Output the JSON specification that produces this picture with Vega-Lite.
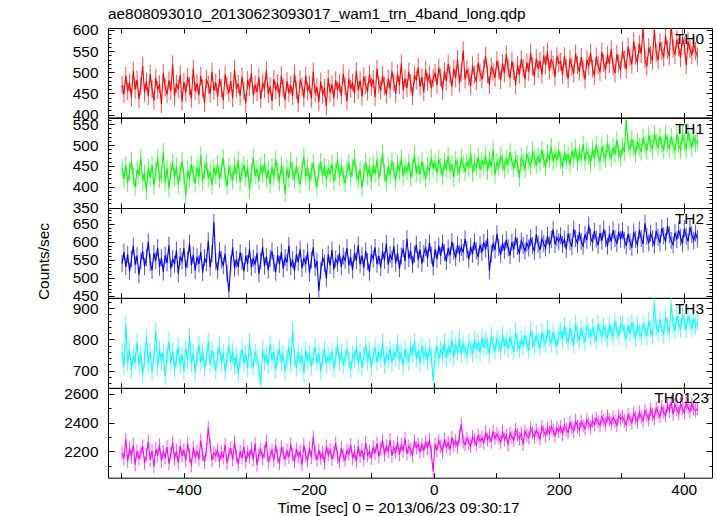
{
"$schema": "https://vega.github.io/schema/vega-lite/v6.json",
"padding": {"left": 35, "top": 7, "right": 6, "bottom": 4},
"title": {"text": "ae808093010_20130623093017_wam1_trn_4band_long.qdp", "anchor": "start", "frame": "group", "fontSize": 15.4, "fontWeight": "normal", "font": "Liberation Sans", "color": "#000", "baseline": "alphabetic", "offset": -12},
"datasets": {"lc": [
{"t":-499,"a":470,"b":445,"c":540,"d":760,"e":2190},
{"t":-496,"a":448,"b":418,"c":572,"d":712,"e":2150},
{"t":-493,"a":492,"b":452,"c":531,"d":848,"e":2285},
{"t":-490,"a":455,"b":409,"c":566,"d":725,"e":2130},
{"t":-487,"a":476,"b":437,"c":518,"d":768,"e":2222},
{"t":-484,"a":441,"b":461,"c":553,"d":702,"e":2164},
{"t":-481,"a":503,"b":424,"c":589,"d":745,"e":2246},
{"t":-478,"a":459,"b":398,"c":537,"d":731,"e":2108},
{"t":-475,"a":482,"b":441,"c":562,"d":790,"e":2201},
{"t":-472,"a":437,"b":427,"c":509,"d":718,"e":2152},
{"t":-469,"a":468,"b":470,"c":548,"d":754,"e":2189},
{"t":-466,"a":515,"b":415,"c":575,"d":688,"e":2236},
{"t":-463,"a":452,"b":433,"c":532,"d":736,"e":2119},
{"t":-460,"a":479,"b":389,"c":557,"d":805,"e":2177},
{"t":-457,"a":444,"b":446,"c":601,"d":721,"e":2268},
{"t":-454,"a":496,"b":421,"c":543,"d":760,"e":2140},
{"t":-451,"a":461,"b":452,"c":521,"d":697,"e":2203},
{"t":-448,"a":433,"b":403,"c":569,"d":742,"e":2095},
{"t":-445,"a":487,"b":439,"c":548,"d":826,"e":2217},
{"t":-442,"a":458,"b":468,"c":584,"d":711,"e":2171},
{"t":-439,"a":472,"b":417,"c":530,"d":769,"e":2244},
{"t":-436,"a":425,"b":430,"c":556,"d":729,"e":2133},
{"t":-433,"a":499,"b":484,"c":517,"d":758,"e":2196},
{"t":-430,"a":465,"b":411,"c":563,"d":681,"e":2158},
{"t":-427,"a":448,"b":444,"c":542,"d":747,"e":2230},
{"t":-424,"a":481,"b":396,"c":591,"d":794,"e":2115},
{"t":-421,"a":456,"b":437,"c":526,"d":725,"e":2183},
{"t":-418,"a":519,"b":458,"c":554,"d":762,"e":2262},
{"t":-415,"a":443,"b":422,"c":538,"d":705,"e":2147},
{"t":-412,"a":473,"b":449,"c":577,"d":739,"e":2205},
{"t":-409,"a":460,"b":404,"c":512,"d":778,"e":2120},
{"t":-406,"a":494,"b":433,"c":560,"d":716,"e":2238},
{"t":-403,"a":431,"b":462,"c":547,"d":752,"e":2169},
{"t":-400,"a":477,"b":426,"c":583,"d":699,"e":2211},
{"t":-397,"a":452,"b":380,"c":528,"d":771,"e":2138},
{"t":-394,"a":489,"b":441,"c":551,"d":733,"e":2254},
{"t":-391,"a":467,"b":418,"c":596,"d":810,"e":2174},
{"t":-388,"a":438,"b":454,"c":536,"d":722,"e":2102},
{"t":-385,"a":509,"b":431,"c":564,"d":757,"e":2228},
{"t":-382,"a":455,"b":407,"c":520,"d":695,"e":2161},
{"t":-379,"a":474,"b":447,"c":559,"d":744,"e":2199},
{"t":-376,"a":446,"b":423,"c":539,"d":783,"e":2144},
{"t":-373,"a":491,"b":475,"c":573,"d":726,"e":2276},
{"t":-370,"a":462,"b":412,"c":515,"d":760,"e":2180},
{"t":-367,"a":428,"b":439,"c":556,"d":708,"e":2125},
{"t":-364,"a":484,"b":458,"c":542,"d":741,"e":2215},
{"t":-361,"a":470,"b":420,"c":603,"d":792,"e":2365},
{"t":-358,"a":449,"b":436,"c":530,"d":719,"e":2243},
{"t":-355,"a":501,"b":403,"c":567,"d":765,"e":2137},
{"t":-352,"a":457,"b":446,"c":655,"d":733,"e":2190},
{"t":-349,"a":476,"b":427,"c":545,"d":701,"e":2172},
{"t":-346,"a":442,"b":455,"c":521,"d":749,"e":2208},
{"t":-343,"a":486,"b":418,"c":576,"d":776,"e":2129},
{"t":-340,"a":463,"b":440,"c":551,"d":722,"e":2191},
{"t":-337,"a":434,"b":469,"c":533,"d":758,"e":2156},
{"t":-334,"a":495,"b":424,"c":568,"d":696,"e":2247},
{"t":-331,"a":468,"b":401,"c":514,"d":740,"e":2118},
{"t":-328,"a":451,"b":448,"c":462,"d":781,"e":2185},
{"t":-325,"a":480,"b":432,"c":539,"d":727,"e":2223},
{"t":-322,"a":439,"b":415,"c":585,"d":761,"e":2142},
{"t":-319,"a":507,"b":451,"c":527,"d":715,"e":2265},
{"t":-316,"a":461,"b":429,"c":552,"d":748,"e":2170},
{"t":-313,"a":473,"b":464,"c":531,"d":690,"e":2110},
{"t":-310,"a":444,"b":410,"c":571,"d":737,"e":2201},
{"t":-307,"a":490,"b":437,"c":546,"d":769,"e":2155},
{"t":-304,"a":456,"b":453,"c":518,"d":723,"e":2236},
{"t":-301,"a":427,"b":421,"c":562,"d":754,"e":2127},
{"t":-298,"a":482,"b":445,"c":540,"d":707,"e":2194},
{"t":-295,"a":465,"b":392,"c":580,"d":792,"e":2162},
{"t":-292,"a":498,"b":433,"c":529,"d":734,"e":2219},
{"t":-289,"a":446,"b":470,"c":555,"d":711,"e":2141},
{"t":-286,"a":471,"b":426,"c":537,"d":757,"e":2254},
{"t":-283,"a":453,"b":443,"c":569,"d":742,"e":2106},
{"t":-280,"a":488,"b":414,"c":512,"d":703,"e":2180},
{"t":-277,"a":437,"b":450,"c":548,"d":655,"e":2213},
{"t":-274,"a":476,"b":431,"c":586,"d":768,"e":2149},
{"t":-271,"a":460,"b":458,"c":533,"d":728,"e":2196},
{"t":-268,"a":505,"b":419,"c":560,"d":751,"e":2270},
{"t":-265,"a":449,"b":440,"c":522,"d":716,"e":2125},
{"t":-262,"a":467,"b":406,"c":554,"d":785,"e":2171},
{"t":-259,"a":432,"b":447,"c":575,"d":733,"e":2209},
{"t":-256,"a":484,"b":423,"c":541,"d":759,"e":2135},
{"t":-253,"a":458,"b":466,"c":516,"d":702,"e":2242},
{"t":-250,"a":474,"b":435,"c":564,"d":745,"e":2166},
{"t":-247,"a":441,"b":411,"c":538,"d":770,"e":2117},
{"t":-244,"a":493,"b":452,"c":572,"d":724,"e":2231},
{"t":-241,"a":462,"b":429,"c":526,"d":752,"e":2189},
{"t":-238,"a":435,"b":384,"c":557,"d":697,"e":2143},
{"t":-235,"a":479,"b":444,"c":543,"d":738,"e":2207},
{"t":-232,"a":451,"b":420,"c":590,"d":776,"e":2158},
{"t":-229,"a":470,"b":461,"c":531,"d":719,"e":2250},
{"t":-226,"a":444,"b":437,"c":551,"d":829,"e":2175},
{"t":-223,"a":497,"b":416,"c":519,"d":743,"e":2129},
{"t":-220,"a":459,"b":450,"c":566,"d":708,"e":2216},
{"t":-217,"a":427,"b":428,"c":544,"d":761,"e":2163},
{"t":-214,"a":483,"b":405,"c":580,"d":727,"e":2198},
{"t":-211,"a":466,"b":442,"c":527,"d":748,"e":2108},
{"t":-208,"a":440,"b":473,"c":556,"d":692,"e":2244},
{"t":-205,"a":492,"b":425,"c":538,"d":766,"e":2172},
{"t":-202,"a":455,"b":446,"c":573,"d":731,"e":2137},
{"t":-199,"a":471,"b":413,"c":514,"d":754,"e":2223},
{"t":-196,"a":438,"b":436,"c":550,"d":712,"e":2160},
{"t":-193,"a":502,"b":457,"c":585,"d":745,"e":2299},
{"t":-190,"a":450,"b":421,"c":529,"d":777,"e":2185},
{"t":-187,"a":465,"b":398,"c":547,"d":725,"e":2140},
{"t":-184,"a":430,"b":439,"c":465,"d":756,"e":2208},
{"t":-181,"a":478,"b":460,"c":520,"d":698,"e":2154},
{"t":-178,"a":447,"b":426,"c":557,"d":741,"e":2193},
{"t":-175,"a":463,"b":448,"c":541,"d":767,"e":2119},
{"t":-172,"a":420,"b":417,"c":499,"d":720,"e":2236},
{"t":-169,"a":486,"b":444,"c":566,"d":749,"e":2177},
{"t":-166,"a":452,"b":430,"c":535,"d":729,"e":2212},
{"t":-163,"a":471,"b":455,"c":578,"d":762,"e":2145},
{"t":-160,"a":439,"b":412,"c":524,"d":706,"e":2190},
{"t":-157,"a":481,"b":436,"c":553,"d":744,"e":2257},
{"t":-154,"a":458,"b":463,"c":540,"d":781,"e":2163},
{"t":-151,"a":474,"b":422,"c":569,"d":726,"e":2128},
{"t":-148,"a":445,"b":448,"c":531,"d":758,"e":2224},
{"t":-145,"a":497,"b":427,"c":561,"d":717,"e":2171},
{"t":-142,"a":467,"b":408,"c":549,"d":740,"e":2139},
{"t":-139,"a":432,"b":440,"c":584,"d":770,"e":2206},
{"t":-136,"a":485,"b":457,"c":536,"d":733,"e":2180},
{"t":-133,"a":461,"b":423,"c":557,"d":701,"e":2245},
{"t":-130,"a":476,"b":445,"c":522,"d":751,"e":2150},
{"t":-127,"a":449,"b":469,"c":570,"d":738,"e":2197},
{"t":-124,"a":503,"b":431,"c":548,"d":776,"e":2129},
{"t":-121,"a":458,"b":418,"c":591,"d":722,"e":2235},
{"t":-118,"a":481,"b":441,"c":538,"d":759,"e":2166},
{"t":-115,"a":443,"b":397,"c":562,"d":708,"e":2208},
{"t":-112,"a":490,"b":434,"c":529,"d":747,"e":2141},
{"t":-109,"a":470,"b":459,"c":575,"d":781,"e":2262},
{"t":-106,"a":454,"b":425,"c":546,"d":728,"e":2173},
{"t":-103,"a":496,"b":448,"c":516,"d":764,"e":2199},
{"t":-100,"a":466,"b":414,"c":567,"d":711,"e":2152},
{"t":-97,"a":484,"b":452,"c":553,"d":748,"e":2230},
{"t":-94,"a":441,"b":430,"c":585,"d":774,"e":2187},
{"t":-91,"a":508,"b":465,"c":538,"d":727,"e":2256},
{"t":-88,"a":472,"b":421,"c":561,"d":759,"e":2163},
{"t":-85,"a":457,"b":446,"c":529,"d":736,"e":2218},
{"t":-82,"a":493,"b":480,"c":574,"d":790,"e":2275},
{"t":-79,"a":468,"b":433,"c":549,"d":718,"e":2176},
{"t":-76,"a":447,"b":411,"c":596,"d":752,"e":2240},
{"t":-73,"a":485,"b":448,"c":537,"d":737,"e":2197},
{"t":-70,"a":461,"b":427,"c":565,"d":771,"e":2281},
{"t":-67,"a":503,"b":462,"c":552,"d":724,"e":2168},
{"t":-64,"a":476,"b":439,"c":588,"d":760,"e":2229},
{"t":-61,"a":449,"b":415,"c":541,"d":741,"e":2192},
{"t":-58,"a":497,"b":455,"c":570,"d":787,"e":2263},
{"t":-55,"a":470,"b":437,"c":526,"d":732,"e":2178},
{"t":-52,"a":521,"b":468,"c":561,"d":756,"e":2247},
{"t":-49,"a":458,"b":424,"c":582,"d":716,"e":2205},
{"t":-46,"a":486,"b":447,"c":547,"d":769,"e":2290},
{"t":-43,"a":463,"b":436,"c":609,"d":745,"e":2183},
{"t":-40,"a":501,"b":459,"c":554,"d":727,"e":2236},
{"t":-37,"a":475,"b":420,"c":575,"d":775,"e":2211},
{"t":-34,"a":444,"b":445,"c":538,"d":753,"e":2170},
{"t":-31,"a":494,"b":477,"c":566,"d":792,"e":2273},
{"t":-28,"a":481,"b":431,"c":593,"d":738,"e":2226},
{"t":-25,"a":512,"b":452,"c":551,"d":764,"e":2252},
{"t":-22,"a":466,"b":428,"c":579,"d":723,"e":2195},
{"t":-19,"a":489,"b":461,"c":540,"d":781,"e":2247},
{"t":-16,"a":453,"b":439,"c":568,"d":745,"e":2204},
{"t":-13,"a":506,"b":418,"c":585,"d":762,"e":2268},
{"t":-10,"a":477,"b":450,"c":554,"d":730,"e":2222},
{"t":-7,"a":495,"b":436,"c":598,"d":773,"e":2281},
{"t":-4,"a":462,"b":470,"c":563,"d":748,"e":2190},
{"t":-1,"a":486,"b":443,"c":531,"d":668,"e":2060},
{"t":2,"a":499,"b":458,"c":580,"d":744,"e":2249},
{"t":5,"a":470,"b":432,"c":552,"d":781,"e":2208},
{"t":8,"a":511,"b":466,"c":589,"d":735,"e":2275},
{"t":11,"a":488,"b":447,"c":561,"d":767,"e":2236},
{"t":14,"a":457,"b":425,"c":597,"d":752,"e":2198},
{"t":17,"a":503,"b":460,"c":570,"d":792,"e":2285},
{"t":20,"a":479,"b":441,"c":546,"d":738,"e":2229},
{"t":23,"a":520,"b":473,"c":583,"d":776,"e":2261},
{"t":26,"a":494,"b":438,"c":563,"d":754,"e":2214},
{"t":29,"a":466,"b":455,"c":601,"d":799,"e":2297},
{"t":32,"a":509,"b":421,"c":574,"d":741,"e":2243},
{"t":35,"a":486,"b":464,"c":556,"d":781,"e":2275},
{"t":38,"a":531,"b":448,"c":592,"d":760,"e":2230},
{"t":41,"a":474,"b":431,"c":568,"d":803,"e":2306},
{"t":44,"a":500,"b":470,"c":585,"d":751,"e":2390},
{"t":47,"a":552,"b":453,"c":571,"d":786,"e":2268},
{"t":50,"a":483,"b":436,"c":609,"d":765,"e":2247},
{"t":53,"a":507,"b":461,"c":579,"d":747,"e":2291},
{"t":56,"a":490,"b":445,"c":552,"d":790,"e":2259},
{"t":59,"a":468,"b":480,"c":587,"d":772,"e":2236},
{"t":62,"a":516,"b":433,"c":566,"d":754,"e":2302},
{"t":65,"a":494,"b":458,"c":601,"d":800,"e":2279},
{"t":68,"a":478,"b":447,"c":576,"d":766,"e":2247},
{"t":71,"a":523,"b":471,"c":558,"d":789,"e":2315},
{"t":74,"a":499,"b":440,"c":592,"d":758,"e":2271},
{"t":77,"a":483,"b":462,"c":571,"d":805,"e":2296},
{"t":80,"a":509,"b":451,"c":599,"d":773,"e":2258},
{"t":83,"a":539,"b":475,"c":580,"d":797,"e":2335},
{"t":86,"a":496,"b":437,"c":611,"d":781,"e":2283},
{"t":89,"a":470,"b":466,"c":520,"d":752,"e":2307},
{"t":92,"a":514,"b":448,"c":567,"d":812,"e":2266},
{"t":95,"a":502,"b":490,"c":596,"d":782,"e":2338},
{"t":98,"a":487,"b":429,"c":578,"d":763,"e":2290},
{"t":101,"a":528,"b":459,"c":623,"d":801,"e":2321},
{"t":104,"a":505,"b":447,"c":585,"d":788,"e":2295},
{"t":107,"a":481,"b":474,"c":565,"d":760,"e":2264},
{"t":110,"a":521,"b":457,"c":597,"d":815,"e":2338},
{"t":113,"a":498,"b":441,"c":576,"d":778,"e":2282},
{"t":116,"a":543,"b":469,"c":606,"d":796,"e":2313},
{"t":119,"a":510,"b":452,"c":584,"d":770,"e":2247},
{"t":122,"a":486,"b":483,"c":562,"d":809,"e":2329},
{"t":125,"a":526,"b":461,"c":599,"d":782,"e":2300},
{"t":128,"a":503,"b":444,"c":579,"d":760,"e":2278},
{"t":131,"a":470,"b":466,"c":614,"d":826,"e":2352},
{"t":134,"a":517,"b":455,"c":588,"d":789,"e":2316},
{"t":137,"a":494,"b":421,"c":567,"d":768,"e":2289},
{"t":140,"a":531,"b":472,"c":603,"d":801,"e":2324},
{"t":143,"a":510,"b":459,"c":590,"d":779,"e":2249},
{"t":146,"a":484,"b":441,"c":575,"d":812,"e":2340},
{"t":149,"a":523,"b":478,"c":597,"d":787,"e":2310},
{"t":152,"a":501,"b":463,"c":583,"d":765,"e":2293},
{"t":155,"a":546,"b":449,"c":612,"d":830,"e":2362},
{"t":158,"a":513,"b":486,"c":590,"d":798,"e":2331},
{"t":161,"a":490,"b":467,"c":574,"d":778,"e":2300},
{"t":164,"a":533,"b":452,"c":621,"d":815,"e":2347},
{"t":167,"a":508,"b":474,"c":594,"d":791,"e":2322},
{"t":170,"a":527,"b":458,"c":578,"d":773,"e":2288},
{"t":173,"a":495,"b":489,"c":609,"d":822,"e":2371},
{"t":176,"a":540,"b":467,"c":595,"d":800,"e":2338},
{"t":179,"a":517,"b":446,"c":583,"d":785,"e":2312},
{"t":182,"a":549,"b":480,"c":618,"d":834,"e":2359},
{"t":185,"a":504,"b":465,"c":591,"d":806,"e":2326},
{"t":188,"a":531,"b":496,"c":607,"d":787,"e":2375},
{"t":191,"a":518,"b":461,"c":635,"d":823,"e":2348},
{"t":194,"a":489,"b":478,"c":593,"d":799,"e":2311},
{"t":197,"a":538,"b":465,"c":612,"d":778,"e":2364},
{"t":200,"a":521,"b":487,"c":601,"d":815,"e":2340},
{"t":203,"a":525,"b":464,"c":617,"d":827,"e":2372},
{"t":206,"a":494,"b":447,"c":593,"d":798,"e":2318},
{"t":209,"a":538,"b":482,"c":608,"d":844,"e":2385},
{"t":212,"a":511,"b":463,"c":580,"d":812,"e":2353},
{"t":215,"a":485,"b":478,"c":624,"d":791,"e":2332},
{"t":218,"a":532,"b":452,"c":601,"d":835,"e":2401},
{"t":221,"a":513,"b":486,"c":587,"d":809,"e":2367},
{"t":224,"a":497,"b":467,"c":636,"d":782,"e":2340},
{"t":227,"a":544,"b":493,"c":610,"d":850,"e":2415},
{"t":230,"a":518,"b":458,"c":595,"d":818,"e":2372},
{"t":233,"a":501,"b":481,"c":627,"d":797,"e":2351},
{"t":236,"a":536,"b":470,"c":602,"d":836,"e":2408},
{"t":239,"a":507,"b":502,"c":589,"d":813,"e":2381},
{"t":242,"a":483,"b":462,"c":621,"d":791,"e":2357},
{"t":245,"a":530,"b":485,"c":605,"d":842,"e":2420},
{"t":248,"a":515,"b":474,"c":646,"d":824,"e":2395},
{"t":251,"a":546,"b":455,"c":613,"d":805,"e":2368},
{"t":254,"a":509,"b":490,"c":598,"d":839,"e":2411},
{"t":257,"a":492,"b":468,"c":630,"d":816,"e":2389},
{"t":260,"a":537,"b":501,"c":608,"d":796,"e":2433},
{"t":263,"a":516,"b":476,"c":591,"d":850,"e":2405},
{"t":266,"a":500,"b":460,"c":625,"d":827,"e":2379},
{"t":269,"a":548,"b":497,"c":603,"d":808,"e":2440},
{"t":272,"a":522,"b":479,"c":636,"d":843,"e":2411},
{"t":275,"a":505,"b":466,"c":609,"d":821,"e":2388},
{"t":278,"a":541,"b":504,"c":588,"d":802,"e":2447},
{"t":281,"a":519,"b":483,"c":622,"d":847,"e":2420},
{"t":284,"a":554,"b":468,"c":601,"d":826,"e":2392},
{"t":287,"a":513,"b":495,"c":633,"d":807,"e":2436},
{"t":290,"a":498,"b":477,"c":610,"d":856,"e":2412},
{"t":293,"a":543,"b":512,"c":595,"d":830,"e":2381},
{"t":296,"a":520,"b":482,"c":628,"d":811,"e":2449},
{"t":299,"a":506,"b":469,"c":607,"d":845,"e":2425},
{"t":302,"a":552,"b":498,"c":631,"d":849,"e":2441},
{"t":305,"a":530,"b":483,"c":605,"d":821,"e":2412},
{"t":308,"a":507,"b":560,"c":589,"d":802,"e":2384},
{"t":311,"a":561,"b":502,"c":622,"d":844,"e":2455},
{"t":314,"a":535,"b":489,"c":601,"d":818,"e":2426},
{"t":317,"a":518,"b":515,"c":584,"d":855,"e":2398},
{"t":320,"a":573,"b":493,"c":628,"d":827,"e":2468},
{"t":323,"a":539,"b":478,"c":607,"d":806,"e":2435},
{"t":326,"a":522,"b":509,"c":591,"d":846,"e":2407},
{"t":329,"a":567,"b":496,"c":634,"d":824,"e":2472},
{"t":332,"a":543,"b":484,"c":610,"d":809,"e":2440},
{"t":335,"a":604,"b":518,"c":594,"d":851,"e":2413},
{"t":338,"a":531,"b":499,"c":652,"d":830,"e":2484},
{"t":341,"a":514,"b":486,"c":616,"d":811,"e":2451},
{"t":344,"a":559,"b":523,"c":597,"d":859,"e":2420},
{"t":347,"a":541,"b":503,"c":624,"d":833,"e":2495},
{"t":350,"a":527,"b":490,"c":609,"d":811,"e":2459},
{"t":353,"a":600,"b":527,"c":591,"d":915,"e":2430},
{"t":356,"a":545,"b":508,"c":631,"d":840,"e":2503},
{"t":359,"a":529,"b":494,"c":613,"d":821,"e":2469},
{"t":362,"a":571,"b":521,"c":598,"d":864,"e":2441},
{"t":365,"a":550,"b":502,"c":639,"d":837,"e":2511},
{"t":368,"a":535,"b":487,"c":617,"d":814,"e":2475},
{"t":371,"a":586,"b":526,"c":601,"d":871,"e":2448},
{"t":374,"a":553,"b":505,"c":645,"d":843,"e":2520},
{"t":377,"a":538,"b":491,"c":621,"d":822,"e":2482},
{"t":380,"a":612,"b":520,"c":604,"d":915,"e":2545},
{"t":383,"a":556,"b":499,"c":592,"d":847,"e":2458},
{"t":386,"a":541,"b":485,"c":626,"d":828,"e":2525},
{"t":389,"a":577,"b":525,"c":607,"d":876,"e":2492},
{"t":392,"a":559,"b":502,"c":633,"d":851,"e":2464},
{"t":395,"a":534,"b":487,"c":613,"d":833,"e":2533},
{"t":398,"a":582,"b":529,"c":595,"d":879,"e":2499},
{"t":401,"a":562,"b":506,"c":637,"d":856,"e":2471},
{"t":404,"a":517,"b":490,"c":616,"d":831,"e":2540},
{"t":407,"a":573,"b":531,"c":601,"d":874,"e":2506},
{"t":410,"a":555,"b":509,"c":641,"d":853,"e":2477},
{"t":413,"a":540,"b":493,"c":620,"d":836,"e":2529},
{"t":416,"a":568,"b":520,"c":604,"d":867,"e":2495},
{"t":419,"a":551,"b":503,"c":625,"d":842,"e":2483},
{"t":422,"a":537,"b":510,"c":609,"d":857,"e":2500}
]},
"spacing": 0,
"bounds": "flush",
"vconcat": [
{"width": 604, "height": 89.4, "data": {"name": "lc"},
 "layer": [
  {"mark": {"type": "tick", "orient": "vertical", "color": "#ff0000", "opacity": 0.7, "size": 18, "thickness": 1, "clip": true},
   "encoding": {"x": {"field": "t", "type": "quantitative", "axis": null}, "y": {"field": "a", "type": "quantitative", "axis": null}}},
  {"mark": {"type": "line", "color": "#ff0000", "strokeWidth": 1.1, "clip": true},
   "encoding": {
    "x": {"field": "t", "type": "quantitative", "scale": {"domain": [-521.5, 445.3], "nice": false, "zero": false}, "axis": {"orient": "bottom", "values": [-500,-400,-300,-200,-100,0,100,200,300,400], "tickSize": -5, "labels": false, "title": null}},
    "y": {"field": "a", "type": "quantitative", "scale": {"domain": [393.6, 604.5], "nice": false, "zero": false}, "axis": {"orient": "left", "values": [400,450,500,550,600], "tickSize": -6, "labelPadding": 16, "title": null}}}},
  {"mark": {"type": "line", "opacity": 0},
   "encoding": {
    "x": {"field": "t", "type": "quantitative", "axis": {"orient": "top", "values": [-500,-400,-300,-200,-100,0,100,200,300,400], "tickSize": -5, "labels": false, "title": null}},
    "y": {"field": "a", "type": "quantitative", "axis": {"orient": "right", "values": [400,450,500,550,600], "tickSize": -6, "labels": false, "title": null}}}},
  {"mark": {"type": "line", "opacity": 0},
   "encoding": {
    "x": {"field": "t", "type": "quantitative", "axis": null},
    "y": {"field": "a", "type": "quantitative", "axis": {"orient": "left", "values": [410,420,430,440,460,470,480,490,510,520,530,540,560,570,580,590], "tickSize": -3, "labels": false, "title": null}}}},
  {"mark": {"type": "line", "opacity": 0},
   "encoding": {
    "x": {"field": "t", "type": "quantitative", "axis": null},
    "y": {"field": "a", "type": "quantitative", "axis": {"orient": "right", "values": [410,420,430,440,460,470,480,490,510,520,530,540,560,570,580,590], "tickSize": -3, "labels": false, "title": null}}}},
  {"data": {"values": [{"lab": "TH0"}]},
   "mark": {"type": "text", "align": "right", "baseline": "alphabetic", "fontSize": 15.4, "font": "Liberation Sans", "color": "#000"},
   "encoding": {"text": {"field": "lab"}, "x": {"datum": 432.5, "type": "quantitative", "axis": null}, "y": {"datum": 566, "type": "quantitative", "axis": null}}}
 ],
 "resolve": {"axis": {"x": "independent", "y": "independent"}}},
{"width": 604, "height": 90, "data": {"name": "lc"},
 "layer": [
  {"mark": {"type": "tick", "orient": "vertical", "color": "#00ff00", "opacity": 0.7, "size": 17.5, "thickness": 1, "clip": true},
   "encoding": {"x": {"field": "t", "type": "quantitative", "axis": null}, "y": {"field": "b", "type": "quantitative", "axis": null}}},
  {"mark": {"type": "line", "color": "#00ff00", "strokeWidth": 1.1, "clip": true},
   "encoding": {
    "x": {"field": "t", "type": "quantitative", "scale": {"domain": [-521.5, 445.3], "nice": false, "zero": false}, "axis": {"orient": "bottom", "values": [-500,-400,-300,-200,-100,0,100,200,300,400], "tickSize": -5, "labels": false, "title": null}},
    "y": {"field": "b", "type": "quantitative", "scale": {"domain": [348.8, 564.9], "nice": false, "zero": false}, "axis": {"orient": "left", "values": [350,400,450,500,550], "tickSize": -6, "labelPadding": 16, "title": null}}}},
  {"mark": {"type": "line", "opacity": 0},
   "encoding": {
    "x": {"field": "t", "type": "quantitative", "axis": {"orient": "top", "values": [-500,-400,-300,-200,-100,0,100,200,300,400], "tickSize": -5, "labels": false, "title": null}},
    "y": {"field": "b", "type": "quantitative", "axis": {"orient": "right", "values": [350,400,450,500,550], "tickSize": -6, "labels": false, "title": null}}}},
  {"mark": {"type": "line", "opacity": 0},
   "encoding": {
    "x": {"field": "t", "type": "quantitative", "axis": null},
    "y": {"field": "b", "type": "quantitative", "axis": {"orient": "left", "values": [360,370,380,390,410,420,430,440,460,470,480,490,510,520,530,540,560], "tickSize": -3, "labels": false, "title": null}}}},
  {"mark": {"type": "line", "opacity": 0},
   "encoding": {
    "x": {"field": "t", "type": "quantitative", "axis": null},
    "y": {"field": "b", "type": "quantitative", "axis": {"orient": "right", "values": [360,370,380,390,410,420,430,440,460,470,480,490,510,520,530,540,560], "tickSize": -3, "labels": false, "title": null}}}},
  {"data": {"values": [{"lab": "TH1"}]},
   "mark": {"type": "text", "align": "right", "baseline": "alphabetic", "fontSize": 15.4, "font": "Liberation Sans", "color": "#000"},
   "encoding": {"text": {"field": "lab"}, "x": {"datum": 432.5, "type": "quantitative", "axis": null}, "y": {"datum": 525.8, "type": "quantitative", "axis": null}}}
 ],
 "resolve": {"axis": {"x": "independent", "y": "independent"}}},
{"width": 604, "height": 89.8, "data": {"name": "lc"},
 "layer": [
  {"mark": {"type": "tick", "orient": "vertical", "color": "#0000ff", "opacity": 0.7, "size": 17, "thickness": 1, "clip": true},
   "encoding": {"x": {"field": "t", "type": "quantitative", "axis": null}, "y": {"field": "c", "type": "quantitative", "axis": null}}},
  {"mark": {"type": "line", "color": "#0000ff", "strokeWidth": 1.1, "clip": true},
   "encoding": {
    "x": {"field": "t", "type": "quantitative", "scale": {"domain": [-521.5, 445.3], "nice": false, "zero": false}, "axis": {"orient": "bottom", "values": [-500,-400,-300,-200,-100,0,100,200,300,400], "tickSize": -5, "labels": false, "title": null}},
    "y": {"field": "c", "type": "quantitative", "scale": {"domain": [445, 694.4], "nice": false, "zero": false}, "axis": {"orient": "left", "values": [450,500,550,600,650], "tickSize": -6, "labelPadding": 16, "title": "Counts/sec", "titlePadding": 21, "titleY": 53}}}},
  {"mark": {"type": "line", "opacity": 0},
   "encoding": {
    "x": {"field": "t", "type": "quantitative", "axis": {"orient": "top", "values": [-500,-400,-300,-200,-100,0,100,200,300,400], "tickSize": -5, "labels": false, "title": null}},
    "y": {"field": "c", "type": "quantitative", "axis": {"orient": "right", "values": [450,500,550,600,650], "tickSize": -6, "labels": false, "title": null}}}},
  {"mark": {"type": "line", "opacity": 0},
   "encoding": {
    "x": {"field": "t", "type": "quantitative", "axis": null},
    "y": {"field": "c", "type": "quantitative", "axis": {"orient": "left", "values": [460,470,480,490,510,520,530,540,560,570,580,590,610,620,630,640,660,670,680,690], "tickSize": -3, "labels": false, "title": null}}}},
  {"mark": {"type": "line", "opacity": 0},
   "encoding": {
    "x": {"field": "t", "type": "quantitative", "axis": null},
    "y": {"field": "c", "type": "quantitative", "axis": {"orient": "right", "values": [460,470,480,490,510,520,530,540,560,570,580,590,610,620,630,640,660,670,680,690], "tickSize": -3, "labels": false, "title": null}}}},
  {"data": {"values": [{"lab": "TH2"}]},
   "mark": {"type": "text", "align": "right", "baseline": "alphabetic", "fontSize": 15.4, "font": "Liberation Sans", "color": "#000"},
   "encoding": {"text": {"field": "lab"}, "x": {"datum": 432.5, "type": "quantitative", "axis": null}, "y": {"datum": 649, "type": "quantitative", "axis": null}}}
 ],
 "resolve": {"axis": {"x": "independent", "y": "independent"}}},
{"width": 604, "height": 89.8, "data": {"name": "lc"},
 "layer": [
  {"mark": {"type": "tick", "orient": "vertical", "color": "#00ffff", "opacity": 0.7, "size": 17.5, "thickness": 1, "clip": true},
   "encoding": {"x": {"field": "t", "type": "quantitative", "axis": null}, "y": {"field": "d", "type": "quantitative", "axis": null}}},
  {"mark": {"type": "line", "color": "#00ffff", "strokeWidth": 1.1, "clip": true},
   "encoding": {
    "x": {"field": "t", "type": "quantitative", "scale": {"domain": [-521.5, 445.3], "nice": false, "zero": false}, "axis": {"orient": "bottom", "values": [-500,-400,-300,-200,-100,0,100,200,300,400], "tickSize": -5, "labels": false, "title": null}},
    "y": {"field": "d", "type": "quantitative", "scale": {"domain": [644.5, 932.7], "nice": false, "zero": false}, "axis": {"orient": "left", "values": [700,800,900], "tickSize": -6, "labelPadding": 16, "title": null}}}},
  {"mark": {"type": "line", "opacity": 0},
   "encoding": {
    "x": {"field": "t", "type": "quantitative", "axis": {"orient": "top", "values": [-500,-400,-300,-200,-100,0,100,200,300,400], "tickSize": -5, "labels": false, "title": null}},
    "y": {"field": "d", "type": "quantitative", "axis": {"orient": "right", "values": [700,800,900], "tickSize": -6, "labels": false, "title": null}}}},
  {"mark": {"type": "line", "opacity": 0},
   "encoding": {
    "x": {"field": "t", "type": "quantitative", "axis": null},
    "y": {"field": "d", "type": "quantitative", "axis": {"orient": "left", "values": [660,680,720,740,760,780,820,840,860,880,920], "tickSize": -3, "labels": false, "title": null}}}},
  {"mark": {"type": "line", "opacity": 0},
   "encoding": {
    "x": {"field": "t", "type": "quantitative", "axis": null},
    "y": {"field": "d", "type": "quantitative", "axis": {"orient": "right", "values": [660,680,720,740,760,780,820,840,860,880,920], "tickSize": -3, "labels": false, "title": null}}}},
  {"data": {"values": [{"lab": "TH3"}]},
   "mark": {"type": "text", "align": "right", "baseline": "alphabetic", "fontSize": 15.4, "font": "Liberation Sans", "color": "#000"},
   "encoding": {"text": {"field": "lab"}, "x": {"datum": 432.5, "type": "quantitative", "axis": null}, "y": {"datum": 880.4, "type": "quantitative", "axis": null}}}
 ],
 "resolve": {"axis": {"x": "independent", "y": "independent"}}},
{"width": 604, "height": 89.7, "data": {"name": "lc"},
 "layer": [
  {"mark": {"type": "tick", "orient": "vertical", "color": "#ff00ff", "opacity": 0.7, "size": 13.5, "thickness": 1, "clip": true},
   "encoding": {"x": {"field": "t", "type": "quantitative", "axis": null}, "y": {"field": "e", "type": "quantitative", "axis": null}}},
  {"mark": {"type": "line", "color": "#ff00ff", "strokeWidth": 1.1, "clip": true},
   "encoding": {
    "x": {"field": "t", "type": "quantitative", "scale": {"domain": [-521.5, 445.3], "nice": false, "zero": false}, "axis": {"orient": "bottom", "values": [-500,-400,-300,-200,-100,0,100,200,300,400], "tickSize": -5, "labelPadding": 10, "labelFlush": false, "labelExpr": "datum.value % 200 === 0 ? datum.label : ''", "title": "Time [sec] 0 = 2013/06/23 09:30:17", "titlePadding": 2, "titleX": 290}},
    "y": {"field": "e", "type": "quantitative", "scale": {"domain": [2016.7, 2641.8], "nice": false, "zero": false}, "axis": {"orient": "left", "values": [2200,2400,2600], "format": "d", "tickSize": -6, "labelPadding": 16, "title": null}}}},
  {"mark": {"type": "line", "opacity": 0},
   "encoding": {
    "x": {"field": "t", "type": "quantitative", "axis": {"orient": "top", "values": [-500,-400,-300,-200,-100,0,100,200,300,400], "tickSize": -5, "labels": false, "title": null}},
    "y": {"field": "e", "type": "quantitative", "axis": {"orient": "right", "values": [2200,2400,2600], "tickSize": -6, "labels": false, "title": null}}}},
  {"mark": {"type": "line", "opacity": 0},
   "encoding": {
    "x": {"field": "t", "type": "quantitative", "axis": null},
    "y": {"field": "e", "type": "quantitative", "axis": {"orient": "left", "values": [2100,2300,2500], "tickSize": -3, "labels": false, "title": null}}}},
  {"mark": {"type": "line", "opacity": 0},
   "encoding": {
    "x": {"field": "t", "type": "quantitative", "axis": null},
    "y": {"field": "e", "type": "quantitative", "axis": {"orient": "right", "values": [2100,2300,2500], "tickSize": -3, "labels": false, "title": null}}}},
  {"data": {"values": [{"lab": "TH0123"}]},
   "mark": {"type": "text", "align": "right", "baseline": "alphabetic", "fontSize": 15.4, "font": "Liberation Sans", "color": "#000"},
   "encoding": {"text": {"field": "lab"}, "x": {"datum": 440.5, "type": "quantitative", "axis": null}, "y": {"datum": 2534.5, "type": "quantitative", "axis": null}}}
 ],
 "resolve": {"axis": {"x": "independent", "y": "independent"}}}
],
"config": {
 "font": "Liberation Sans",
 "view": {"stroke": "#000", "strokeWidth": 1},
 "axis": {"domain": false, "grid": false, "tickColor": "#000", "tickWidth": 1, "labelColor": "#000", "labelFont": "Liberation Sans", "labelFontSize": 15.4, "titleFont": "Liberation Sans", "titleFontSize": 15.4, "titleFontWeight": "normal", "titleColor": "#000"},
 "axisY": {"minExtent": 0}
}
}
